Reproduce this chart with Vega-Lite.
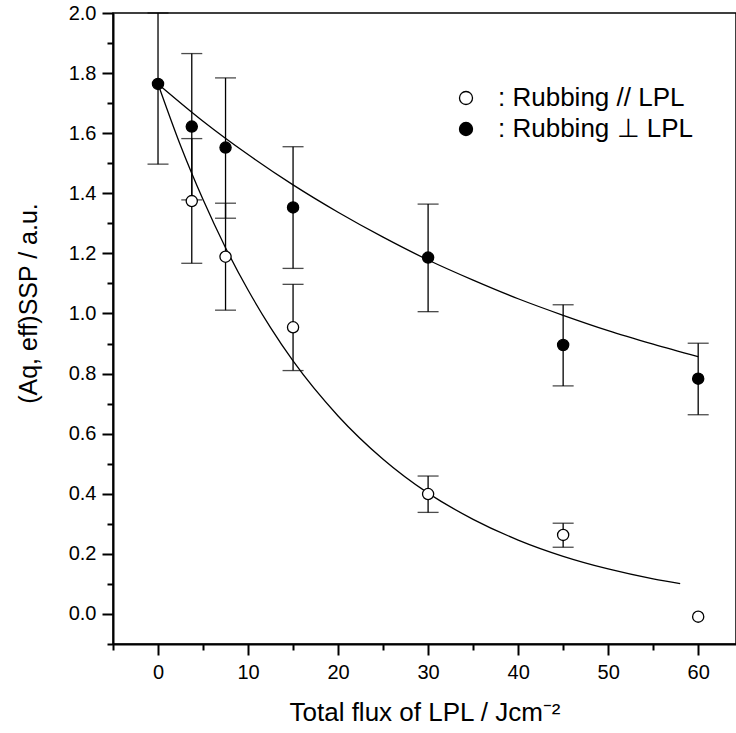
{
  "$schema": "https://vega.github.io/schema/vega-lite/v6.json",
  "width": 623,
  "height": 631,
  "autosize": {"type": "none"},
  "padding": {"left": 113, "top": 13, "right": 0, "bottom": 89},
  "background": "white",
  "config": {
    "view": {"stroke": "black", "strokeWidth": 1.5},
    "axis": {
      "labelFont": "Liberation Sans",
      "titleFont": "Liberation Sans",
      "labelColor": "black",
      "titleColor": "black",
      "domainColor": "black",
      "tickColor": "black",
      "domainWidth": 2,
      "tickWidth": 2,
      "grid": false,
      "titleFontWeight": "normal",
      "titleFontSize": 26
    }
  },
  "datasets": {
    "pts": [
      {"series": "perp", "flux": 0, "A": 1.764, "lo": 1.497, "hi": 2.0},
      {"series": "perp", "flux": 3.75, "A": 1.622, "lo": 1.378, "hi": 1.865},
      {"series": "perp", "flux": 7.5, "A": 1.552, "lo": 1.317, "hi": 1.784},
      {"series": "perp", "flux": 15, "A": 1.353, "lo": 1.150, "hi": 1.555},
      {"series": "perp", "flux": 30, "A": 1.186, "lo": 1.006, "hi": 1.364},
      {"series": "perp", "flux": 45, "A": 0.895, "lo": 0.759, "hi": 1.029},
      {"series": "perp", "flux": 60, "A": 0.783, "lo": 0.663, "hi": 0.901},
      {"series": "par", "flux": 3.75, "A": 1.374, "lo": 1.167, "hi": 1.582},
      {"series": "par", "flux": 7.5, "A": 1.189, "lo": 1.011, "hi": 1.367},
      {"series": "par", "flux": 15, "A": 0.954, "lo": 0.810, "hi": 1.097},
      {"series": "par", "flux": 30, "A": 0.399, "lo": 0.338, "hi": 0.459},
      {"series": "par", "flux": 45, "A": 0.263, "lo": 0.222, "hi": 0.302},
      {"series": "par", "flux": 60, "A": -0.009, "lo": null, "hi": null}
    ],
    "fits": [
      {"series": "perp", "flux": 0, "A": 1.764},
      {"series": "perp", "flux": 5, "A": 1.640},
      {"series": "perp", "flux": 10, "A": 1.529},
      {"series": "perp", "flux": 15, "A": 1.428},
      {"series": "perp", "flux": 20, "A": 1.337},
      {"series": "perp", "flux": 25, "A": 1.254},
      {"series": "perp", "flux": 30, "A": 1.178},
      {"series": "perp", "flux": 35, "A": 1.111},
      {"series": "perp", "flux": 40, "A": 1.049},
      {"series": "perp", "flux": 45, "A": 0.994},
      {"series": "perp", "flux": 50, "A": 0.943},
      {"series": "perp", "flux": 55, "A": 0.898},
      {"series": "perp", "flux": 60, "A": 0.856},
      {"series": "par", "flux": 0, "A": 1.764},
      {"series": "par", "flux": 2.5, "A": 1.559},
      {"series": "par", "flux": 5, "A": 1.379},
      {"series": "par", "flux": 7.5, "A": 1.219},
      {"series": "par", "flux": 10, "A": 1.078},
      {"series": "par", "flux": 12.5, "A": 0.953},
      {"series": "par", "flux": 15, "A": 0.842},
      {"series": "par", "flux": 20, "A": 0.659},
      {"series": "par", "flux": 25, "A": 0.515},
      {"series": "par", "flux": 30, "A": 0.402},
      {"series": "par", "flux": 35, "A": 0.315},
      {"series": "par", "flux": 40, "A": 0.246},
      {"series": "par", "flux": 45, "A": 0.192},
      {"series": "par", "flux": 50, "A": 0.150},
      {"series": "par", "flux": 55, "A": 0.117},
      {"series": "par", "flux": 58, "A": 0.101}
    ]
  },
  "encoding": {
    "x": {
      "field": "flux", "type": "quantitative",
      "scale": {"domain": [-5, 64.2], "nice": false, "zero": false},
      "axis": {
        "title": "Total flux of LPL / Jcm⁻²",
        "values": [-5, 0, 5, 10, 15, 20, 25, 30, 35, 40, 45, 50, 55, 60],
        "labelExpr": "datum.value % 10 == 0 ? format(datum.value, 'd') : ''",
        "labelFontSize": 20,
        "tickSize": {"condition": {"test": "datum.value % 10 == 0", "value": 11}, "value": 6},
        "labelPadding": 7,
        "titlePadding": 17
      }
    },
    "y": {
      "field": "A", "type": "quantitative",
      "scale": {"domain": [-0.1, 2.0], "nice": false, "zero": false},
      "axis": {
        "title": "(Aq, eff)SSP / a.u.",
        "titleFontSize": 25,
        "titleY": 290,
        "values": [-0.1, 0, 0.1, 0.2, 0.3, 0.4, 0.5, 0.6, 0.7, 0.8, 0.9, 1.0, 1.1, 1.2, 1.3, 1.4, 1.5, 1.6, 1.7, 1.8, 1.9, 2.0],
        "labelExpr": "abs(round(datum.value * 10)) % 2 == 0 ? format(datum.value, '.1f') : ''",
        "labelFontSize": 20,
        "tickSize": {"condition": {"test": "abs(round(datum.value * 10)) % 2 == 0", "value": 11}, "value": 6},
        "labelPadding": 6,
        "titlePadding": 27
      }
    }
  },
  "layer": [
    {
      "data": {"name": "pts"},
      "transform": [{"filter": "datum.lo != null"}],
      "mark": {"type": "rule", "color": "black", "strokeWidth": 1.3},
      "encoding": {"y": {"field": "lo", "type": "quantitative"}, "y2": {"field": "hi"}}
    },
    {
      "data": {"name": "pts"},
      "transform": [{"filter": "datum.lo != null"}],
      "mark": {"type": "tick", "orient": "horizontal", "color": "black", "size": 21, "thickness": 1.3},
      "encoding": {"y": {"field": "lo", "type": "quantitative"}}
    },
    {
      "data": {"name": "pts"},
      "transform": [{"filter": "datum.hi != null"}],
      "mark": {"type": "tick", "orient": "horizontal", "color": "black", "size": 21, "thickness": 1.3},
      "encoding": {"y": {"field": "hi", "type": "quantitative"}}
    },
    {
      "data": {"name": "fits"},
      "mark": {"type": "line", "color": "black", "strokeWidth": 1.3, "interpolate": "monotone"},
      "encoding": {"detail": {"field": "series"}}
    },
    {
      "data": {"name": "pts"},
      "mark": {"type": "point", "shape": "circle", "filled": true, "stroke": "black", "strokeWidth": 1.3, "size": 125, "opacity": 1},
      "encoding": {
        "fill": {
          "field": "series", "type": "nominal",
          "scale": {"domain": ["par", "perp"], "range": ["white", "black"]},
          "legend": {
            "title": null,
            "orient": "none",
            "legendX": 340,
            "legendY": 72,
            "padding": 0,
            "symbolType": "circle",
            "symbolSize": 170,
            "symbolStrokeColor": "black",
            "symbolStrokeWidth": 1.3,
            "labelFont": "Liberation Sans",
            "labelFontSize": 26,
            "labelColor": "black",
            "labelOffset": 19,
            "rowPadding": 5,
            "labelLimit": 400,
            "labelExpr": "datum.label == 'par' ? ': Rubbing // LPL' : ': Rubbing ⊥ LPL'"
          }
        }
      }
    }
  ]
}
